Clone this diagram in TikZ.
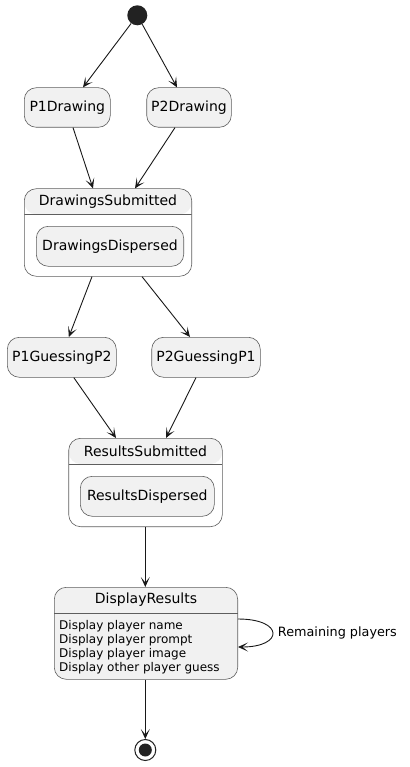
\documentclass[tikz,border=0pt]{standalone}
\usepackage{fontspec}
\setmainfont{DejaVu Sans}
\usetikzlibrary{arrows.meta,calc}
\definecolor{boxfill}{HTML}{F1F1F1}
\definecolor{boxline}{HTML}{5E5E5E}
\definecolor{ink}{HTML}{181818}
\definecolor{dot}{HTML}{222222}
\tikzset{
  statebox/.style={draw=boxline, fill=boxfill, line width=0.6pt, rounded corners=12pt,
    inner sep=0pt, font=\fontsize{14}{16}\selectfont},
  composite/.style={statebox, fill=white, path picture={
      \fill[boxfill] (path picture bounding box.north west) rectangle
        ([yshift=-#1]path picture bounding box.north east);
      \draw[boxline, line width=0.6pt] ([yshift=-#1]path picture bounding box.north west) --
        ([yshift=-#1]path picture bounding box.north east);}},
  titletext/.style={inner sep=0pt, font=\fontsize{14}{16}\selectfont},
  desctext/.style={inner sep=0pt, anchor=base west, font=\fontsize{12}{14}\selectfont},
  flow/.style={draw=ink, line width=0.9pt, -{Stealth[length=10pt,width=9pt,inset=5.5pt]}},
}
\begin{document}
\begin{tikzpicture}[x=1pt,y=-1pt]
\useasboundingbox (0,0) rectangle (409,767);
% start
\node[circle, fill=dot, minimum size=20pt, inner sep=0pt] (start) at (137.3,15.3) {};
% simple states
\node[statebox, minimum width=86pt, minimum height=39.6pt] (p1) at (67.3,107.5) {P1Drawing};
\node[statebox, minimum width=84.6pt, minimum height=39.6pt] (p2) at (189,107.5) {P2Drawing};
% DrawingsSubmitted composite
\node[composite=25.6pt, minimum width=167.4pt, minimum height=87.6pt] (ds) at (108,232.5) {};
\node[titletext] (dst) at (108,201.5) {DrawingsSubmitted};
\node[statebox, minimum width=147.4pt, minimum height=40pt] (dd) at (110,246.3) {DrawingsDispersed};
% guessing
\node[statebox, minimum width=109pt, minimum height=40pt] (g1) at (61.8,357.3) {P1GuessingP2};
\node[statebox, minimum width=108.6pt, minimum height=40pt] (g2) at (206,357.3) {P2GuessingP1};
% ResultsSubmitted composite
\node[composite=25.7pt, minimum width=153.6pt, minimum height=88.4pt] (rs) at (145.5,482.5) {};
\node[titletext] (rst) at (145.5,451) {ResultsSubmitted};
\node[statebox, minimum width=134pt, minimum height=40pt] (rd) at (147.3,496.3) {ResultsDispersed};
% DisplayResults
\node[statebox, minimum width=183.4pt, minimum height=92pt] (dr) at (146,633.3) {};
\draw[boxline, line width=0.6pt] (54.3,613) -- (237.7,613);
\node[titletext] (drt) at (146,600) {DisplayResults};
\node[desctext] (d1) at (59,629) {Display player name};
\node[desctext] (d2) at (59,643) {Display player prompt};
\node[desctext] (d3) at (59,657) {Display player image};
\node[desctext] (d4) at (59,671) {Display other player guess};
% end
\node[circle, draw=dot, fill=white, line width=1pt, minimum size=21pt, inner sep=0pt] (end) at (145.3,750) {};
\node[circle, fill=dot, minimum size=13pt, inner sep=0pt] (endi) at (145.3,750) {};
% connectors
\draw[flow] (start) -- ([xshift=15.7pt]p1.north);
\draw[flow] (start) -- ([xshift=-12pt]p2.north);
\draw[flow] ([xshift=5.7pt]p1.south) -- ([xshift=-15pt]ds.north);
\draw[flow] ([xshift=-14pt]p2.south) -- ([xshift=27pt]ds.north);
\draw[flow] ([xshift=-16pt]ds.south) -- ([xshift=7pt]g1.north);
\draw[flow] ([xshift=34pt]ds.south) -- ([xshift=-16pt]g2.north);
\draw[flow] ([xshift=12pt]g1.south) -- ([xshift=-29.5pt]rs.north);
\draw[flow] ([xshift=-10pt]g2.south) -- ([xshift=20.5pt]rs.north);
\draw[flow] ([xshift=-0.2pt]rs.south) -- ([xshift=-0.7pt]dr.north);
\draw[flow] ([xshift=-0.7pt]dr.south) -- (end);
\draw[flow] ([yshift=14.3pt]dr.east) .. controls +(46,0) and +(46,0) .. ([yshift=-13.7pt]dr.east)
  node[pos=0.5, right=5pt, inner sep=0pt, font=\fontsize{12.8}{15}\selectfont] (lbl) {Remaining players};
\end{tikzpicture}
\end{document}
